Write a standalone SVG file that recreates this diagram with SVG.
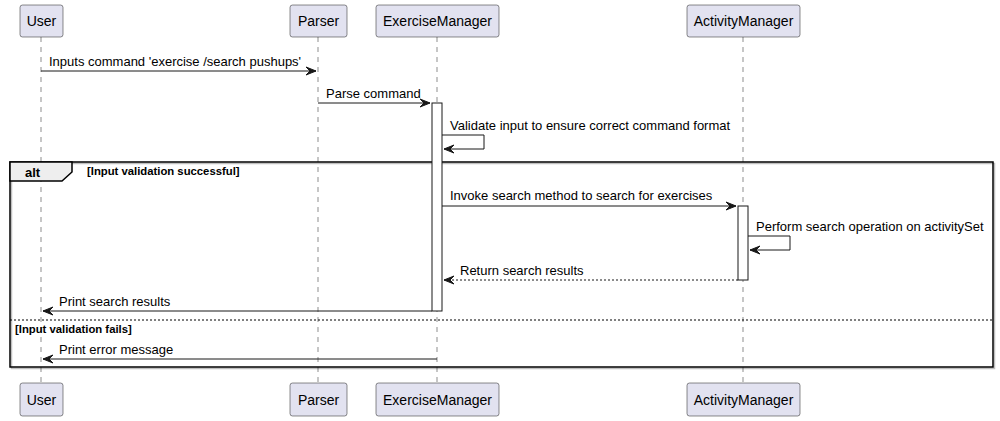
<svg xmlns="http://www.w3.org/2000/svg" width="1000" height="421" viewBox="0 0 1000 421">
<style>
.bg{fill:#fff}
.life{stroke:#181818;stroke-width:0.5;stroke-dasharray:5,5;fill:none}
.pbox{fill:#E2E2F0;stroke:#181818;stroke-width:0.5}
.pt{font-family:"Liberation Sans",Arial,sans-serif;font-size:14px;fill:#000;text-anchor:middle}
.mt{font-family:"Liberation Sans",Arial,sans-serif;font-size:13px;fill:#000}
.ct{font-family:"Liberation Sans",Arial,sans-serif;font-size:11.3px;font-weight:bold;fill:#000}
.act{fill:#fff;stroke:#181818;stroke-width:1}
.msg{stroke:#181818;stroke-width:1;fill:none}
.ret{stroke:#181818;stroke-width:1;fill:none;stroke-dasharray:2,2}
.head{fill:#181818;stroke:#181818;stroke-width:1}
</style>
<rect class="bg" x="0" y="0" width="1000" height="421"/>
<g id="lifelines">
<line class="life" x1="41" y1="37" x2="41" y2="383"/>
<line class="life" x1="318" y1="37" x2="318" y2="383"/>
<line class="life" x1="437" y1="37" x2="437" y2="383"/>
<line class="life" x1="743" y1="37" x2="743" y2="383"/>
</g>
<g id="frame-alt">
<rect x="11.5" y="163.5" width="983" height="205" fill="none" stroke="#000" stroke-opacity="0.25" stroke-width="1.5"/>
<rect x="10" y="162" width="983" height="205" fill="none" stroke="#000" stroke-width="1.5"/>
<polygon points="10,162 72,162 72,172 62,181 10,181" fill="#EEEEEE" stroke="#000" stroke-width="1.5"/>
<text x="25" y="177" font-family="Liberation Sans,Arial,sans-serif" font-size="13" font-weight="bold">alt</text>
<text class="ct" x="87" y="175">[Input validation successful]</text>
<line x1="10" y1="320" x2="993" y2="320" stroke="#000" stroke-width="1" stroke-dasharray="2,2"/>
<text class="ct" x="15" y="333">[Input validation fails]</text>
</g>
<g id="activations">
<rect class="act" x="432" y="103" width="10" height="208"/>
<rect class="act" x="738" y="206" width="10" height="74"/>
</g>
<g id="p-user-top"><rect class="pbox" x="20" y="5" width="43" height="32" rx="2.5"/><text class="pt" x="41.5" y="26">User</text></g>
<g id="p-parser-top"><rect class="pbox" x="290" y="5" width="57" height="32" rx="2.5"/><text class="pt" x="318.5" y="26">Parser</text></g>
<g id="p-exercise-top"><rect class="pbox" x="376" y="5" width="123" height="32" rx="2.5"/><text class="pt" x="437.5" y="26">ExerciseManager</text></g>
<g id="p-activity-top"><rect class="pbox" x="687" y="5" width="113" height="32" rx="2.5"/><text class="pt" x="743.5" y="26">ActivityManager</text></g>
<g id="p-user-bottom"><rect class="pbox" x="20" y="383" width="43" height="33" rx="2.5"/><text class="pt" x="41.5" y="405">User</text></g>
<g id="p-parser-bottom"><rect class="pbox" x="290" y="383" width="57" height="33" rx="2.5"/><text class="pt" x="318.5" y="405">Parser</text></g>
<g id="p-exercise-bottom"><rect class="pbox" x="376" y="383" width="123" height="33" rx="2.5"/><text class="pt" x="437.5" y="405">ExerciseManager</text></g>
<g id="p-activity-bottom"><rect class="pbox" x="687" y="383" width="113" height="33" rx="2.5"/><text class="pt" x="743.5" y="405">ActivityManager</text></g>
<g id="connectors">
<line class="msg" x1="41" y1="71" x2="316" y2="71"/>
<polygon class="head" points="306,67 316,71 306,75 310,71"/>
<text class="mt" x="49" y="66">Inputs command 'exercise /search pushups'</text>

<line class="msg" x1="318" y1="103" x2="430" y2="103"/>
<polygon class="head" points="420,99 430,103 420,107 424,103"/>
<text class="mt" x="326" y="98">Parse command</text>

<polyline class="msg" points="442,135 484,135 484,149 444,149"/>
<polygon class="head" points="454,145 444,149 454,153 450,149"/>
<text class="mt" x="450" y="130">Validate input to ensure correct command format</text>

<line class="msg" x1="442" y1="206" x2="736" y2="206"/>
<polygon class="head" points="726,202 736,206 726,210 730,206"/>
<text class="mt" x="450" y="200">Invoke search method to search for exercises</text>

<polyline class="msg" points="748,236 790,236 790,250 750,250"/>
<polygon class="head" points="760,246 750,250 760,254 756,250"/>
<text class="mt" x="756" y="231">Perform search operation on activitySet</text>

<line class="ret" x1="738" y1="280" x2="444" y2="280"/>
<polygon class="head" points="454,276 444,280 454,284 450,280"/>
<text class="mt" x="460" y="275">Return search results</text>

<line class="msg" x1="432" y1="311" x2="43" y2="311"/>
<polygon class="head" points="53,307 43,311 53,315 49,311"/>
<text class="mt" x="59" y="306">Print search results</text>

<line class="msg" x1="437" y1="359" x2="43" y2="359"/>
<polygon class="head" points="53,355 43,359 53,363 49,359"/>
<text class="mt" x="59" y="354">Print error message</text>
</g>
</svg>
